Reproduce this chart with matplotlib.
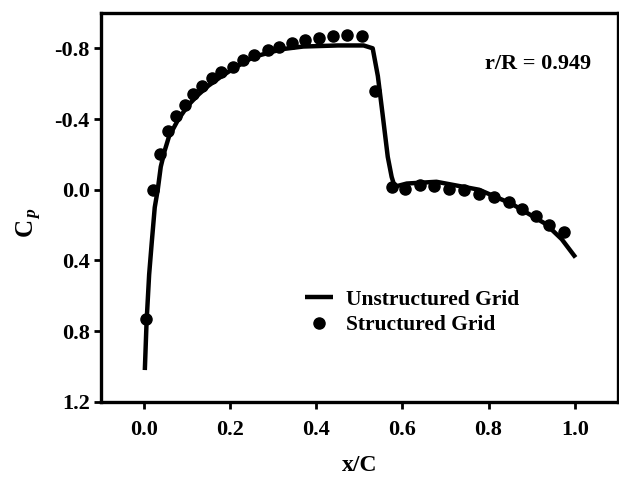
import matplotlib
matplotlib.use("Agg")
import matplotlib.pyplot as plt

# Unstructured grid (solid line)
line_x = [0.002, 0.006, 0.012, 0.018, 0.025, 0.032, 0.039, 0.048, 0.058, 0.079,
          0.102, 0.125, 0.15, 0.178, 0.208, 0.254, 0.32, 0.37, 0.45, 0.51,
          0.531, 0.543, 0.554, 0.566, 0.575, 0.582, 0.61, 0.679, 0.778, 0.854,
          0.933, 0.97, 1.002]
line_cp = [1.02, 0.75, 0.48, 0.30, 0.10, 0.0, -0.13, -0.22, -0.30, -0.395,
           -0.476, -0.535, -0.589, -0.638, -0.686, -0.751, -0.795, -0.81, -0.816, -0.816,
           -0.80, -0.643, -0.427, -0.186, -0.073, -0.017, -0.035, -0.045, 0.0, 0.08,
           0.194, 0.28, 0.383]

# Structured grid (dots)
pt_x = [0.005, 0.021, 0.037, 0.055, 0.074, 0.095, 0.113, 0.134, 0.157, 0.180,
        0.206, 0.229, 0.256, 0.289, 0.314, 0.344, 0.374, 0.406, 0.439, 0.471,
        0.506, 0.536, 0.575, 0.605, 0.640, 0.674, 0.709, 0.744, 0.778, 0.813,
        0.848, 0.878, 0.910, 0.940, 0.975]
pt_cp = [0.73, 0.0, -0.203, -0.332, -0.416, -0.481, -0.541, -0.589, -0.632, -0.665,
         -0.697, -0.735, -0.762, -0.789, -0.805, -0.832, -0.849, -0.859, -0.870, -0.876,
         -0.870, -0.557, -0.017, -0.006, -0.029, -0.023, -0.006, 0.0, 0.023, 0.04,
         0.069, 0.109, 0.149, 0.2, 0.24]

xticks = [0.0, 0.2, 0.4, 0.6, 0.8, 1.0]
yticks = [-0.8, -0.4, 0.0, 0.4, 0.8, 1.2]

plt.rcParams['font.family'] = ['Liberation Serif', 'DejaVu Serif']
plt.rcParams['font.weight'] = 'bold'
plt.rcParams['mathtext.fontset'] = 'custom'
plt.rcParams['mathtext.rm'] = 'Liberation Serif:bold'
plt.rcParams['mathtext.it'] = 'Liberation Serif:bold:italic'

fig = plt.figure(figsize=(6.19, 4.79), dpi=100)
ax = fig.add_axes([0.163, 0.161, 0.835, 0.812])

ax.plot(line_x, line_cp, color='black', lw=3.2, solid_capstyle='butt',
        label='Unstructured Grid', zorder=2)
ax.plot(pt_x, pt_cp, 'o', color='black', ms=8, lw=0,
        label='Structured Grid', zorder=3)

ax.set_xlim(-0.1, 1.1)
ax.set_ylim(1.2, -1.0)
ax.set_xticks(xticks)
ax.set_yticks(yticks)
ax.set_xticklabels([f"{v:.1f}" for v in xticks])
ax.set_yticklabels([f"{v:.1f}" for v in yticks])
ax.tick_params(direction='out', length=5, width=2, labelsize=16, pad=3)
ax.tick_params(axis='x', pad=8)
for s in ax.spines.values():
    s.set_linewidth(2.4)

ax.set_xlabel('x/C', fontsize=17, fontweight='bold', labelpad=11)
ax.set_ylabel(r'C$_{\,p}$', fontsize=18, fontweight='bold')
ax.yaxis.set_label_coords(-0.11, 0.46)

ax.text(0.914, -0.71, 'r/R = 0.949', fontsize=16, fontweight='bold',
        ha='center', va='center')

leg = ax.legend(loc='upper left', bbox_to_anchor=(0.378, 0.31), frameon=False,
                fontsize=15.5, handlelength=1.3, handletextpad=0.6,
                labelspacing=0.25, borderaxespad=0)
for t in leg.get_texts():
    t.set_fontweight('bold')

fig.savefig('out.png', dpi=100)
